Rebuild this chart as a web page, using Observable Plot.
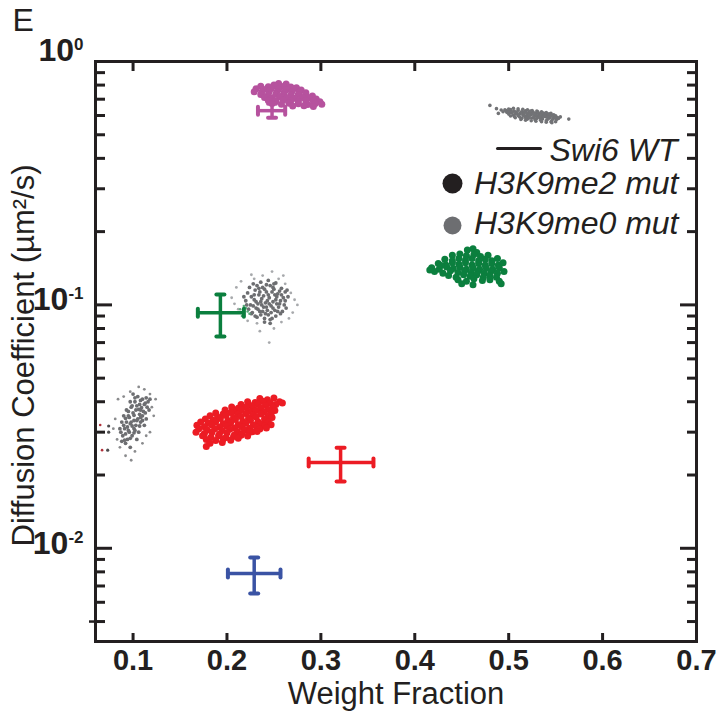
<!DOCTYPE html>
<html><head><meta charset="utf-8">
<script src="https://cdn.jsdelivr.net/npm/d3@7"></script>
<script src="https://cdn.jsdelivr.net/npm/@observablehq/plot@0.6"></script>
<style>html,body{margin:0;padding:0;background:#fff}</style>
</head><body><div id="chart"></div>
<script>
// ---- axis ticks / labels ----
const xTickLabels = [0.1, 0.2, 0.3, 0.4, 0.5, 0.6, 0.7];
const xTickMarks = [0.1, 0.2, 0.3, 0.4, 0.5, 0.6];
const yMajor = [1, 0.1, 0.01];
const yExponents = ["0", "-1", "-2"];
const yMinor = [0.9, 0.8, 0.7, 0.6, 0.5, 0.4, 0.3, 0.2, 0.09, 0.08, 0.07, 0.06, 0.05, 0.04, 0.03, 0.02, 0.009, 0.008, 0.007, 0.006, 0.005];
const yOuterTick = [0.005];
const xLabel = "Weight Fraction";
const yLabel = "Diffusion Coefficient (µm²/s)";
const panelLabel = "E";
const legendLabels = ["Swi6 WT", "H3K9me2 mut", "H3K9me0 mut"];

// ---- Swi6 WT (mean ± error) ----
const wtColor = ["#b6529e", "#0b7f3e", "#ec1c24", "#3a53a4"];
const wtX = [0.248, 0.193, 0.321, 0.229];
const wtXlo = [0.233, 0.169, 0.287, 0.201];
const wtXhi = [0.262, 0.218, 0.356, 0.257];
const wtY = [0.628, 0.0929, 0.0225, 0.00787];
const wtYlo = [0.588, 0.0741, 0.0188, 0.00652];
const wtYhi = [0.670, 0.1102, 0.0259, 0.00916];

// ---- H3K9me2 mut samples ----
const redMe2 = [
[0.235,0.0412],[0.243,0.0408],[0.250,0.0414],[0.256,0.0400],[0.259,0.0395],
[0.222,0.0400],[0.230,0.0397],[0.238,0.0402],[0.246,0.0395],[0.252,0.0390],
[0.215,0.0390],[0.226,0.0385],[0.233,0.0391],[0.241,0.0386],[0.249,0.0380],
[0.205,0.0381],[0.212,0.0376],[0.220,0.0380],[0.228,0.0374],[0.236,0.0378],[0.244,0.0372],[0.251,0.0368],
[0.198,0.0370],[0.207,0.0366],[0.215,0.0371],[0.223,0.0365],[0.231,0.0368],[0.239,0.0362],[0.247,0.0358],
[0.188,0.0360],[0.196,0.0356],[0.204,0.0361],[0.212,0.0355],[0.220,0.0358],[0.228,0.0352],[0.236,0.0356],[0.244,0.0350],
[0.182,0.0350],[0.190,0.0346],[0.199,0.0351],[0.207,0.0345],[0.215,0.0348],[0.223,0.0342],[0.231,0.0346],[0.240,0.0340],[0.248,0.0345],
[0.177,0.0340],[0.185,0.0336],[0.193,0.0341],[0.201,0.0335],[0.209,0.0338],[0.217,0.0332],[0.225,0.0336],[0.233,0.0331],[0.241,0.0334],
[0.172,0.0330],[0.180,0.0326],[0.188,0.0331],[0.196,0.0325],[0.204,0.0328],[0.212,0.0322],[0.220,0.0326],[0.228,0.0321],[0.236,0.0324],[0.244,0.0330],
[0.168,0.0320],[0.176,0.0316],[0.184,0.0321],[0.192,0.0315],[0.200,0.0318],[0.208,0.0312],[0.216,0.0316],[0.224,0.0311],[0.232,0.0314],[0.240,0.0319],[0.247,0.0322],
[0.170,0.0310],[0.179,0.0306],[0.187,0.0310],[0.195,0.0305],[0.203,0.0308],[0.211,0.0302],[0.219,0.0306],[0.227,0.0301],[0.235,0.0309],[0.242,0.0312],
[0.167,0.0300],[0.176,0.0296],[0.184,0.0300],[0.192,0.0295],[0.200,0.0298],[0.208,0.0292],[0.216,0.0296],[0.224,0.0300],[0.232,0.0302],
[0.174,0.0290],[0.183,0.0286],[0.191,0.0290],[0.199,0.0285],[0.207,0.0288],[0.215,0.0291],[0.222,0.0289],
[0.178,0.0280],[0.188,0.0277],[0.196,0.0281],[0.204,0.0278],[0.212,0.0283],
[0.182,0.0270],[0.195,0.0272],[0.178,0.0262]
];
const magMe2 = [
[0.255,0.812],[0.263,0.808],[0.250,0.800],
[0.236,0.792],[0.244,0.788],[0.252,0.794],[0.260,0.790],[0.268,0.786],[0.274,0.780],
[0.231,0.772],[0.239,0.768],[0.247,0.774],[0.255,0.770],[0.263,0.766],[0.271,0.772],[0.279,0.764],
[0.229,0.752],[0.237,0.748],[0.245,0.754],[0.253,0.750],[0.261,0.746],[0.269,0.752],[0.277,0.748],[0.284,0.744],
[0.236,0.732],[0.244,0.728],[0.252,0.734],[0.260,0.730],[0.268,0.726],[0.276,0.732],[0.284,0.728],[0.291,0.722],
[0.240,0.712],[0.248,0.708],[0.256,0.714],[0.264,0.710],[0.272,0.706],[0.280,0.712],[0.288,0.708],[0.295,0.702],
[0.244,0.692],[0.252,0.688],[0.260,0.694],[0.268,0.690],[0.276,0.686],[0.284,0.692],[0.292,0.688],[0.299,0.684],
[0.248,0.672],[0.258,0.668],[0.266,0.674],[0.276,0.670],[0.286,0.666],[0.294,0.672],[0.301,0.668],
[0.270,0.656],[0.282,0.658],[0.292,0.654]
];
const grnMe2 = [
[0.456,0.168],[0.462,0.170],[0.466,0.164],
[0.440,0.160],[0.448,0.162],[0.455,0.159],[0.463,0.161],[0.470,0.158],[0.478,0.160],
[0.432,0.154],[0.440,0.152],[0.447,0.155],[0.454,0.153],[0.461,0.155],[0.468,0.152],[0.475,0.154],[0.482,0.152],[0.488,0.155],
[0.425,0.148],[0.433,0.146],[0.440,0.149],[0.447,0.147],[0.454,0.149],[0.461,0.146],[0.468,0.148],[0.475,0.146],[0.482,0.148],[0.489,0.146],[0.494,0.149],
[0.418,0.142],[0.426,0.140],[0.434,0.143],[0.441,0.141],[0.448,0.143],[0.455,0.140],[0.462,0.142],[0.469,0.140],[0.476,0.142],[0.483,0.140],[0.490,0.142],
[0.421,0.137],[0.430,0.135],[0.438,0.138],[0.446,0.136],[0.453,0.138],[0.460,0.135],[0.467,0.137],[0.474,0.135],[0.481,0.137],[0.488,0.135],[0.495,0.137],
[0.436,0.132],[0.444,0.130],[0.452,0.133],[0.459,0.131],[0.466,0.133],[0.473,0.130],[0.480,0.132],[0.487,0.130],
[0.446,0.127],[0.455,0.125],[0.463,0.128],[0.472,0.126],[0.480,0.127],[0.490,0.125],
[0.450,0.122],[0.462,0.121],[0.492,0.122],[0.428,0.145],[0.416,0.139]
];

// ---- H3K9me0 mut samples ----
const grayTop = [
[0.480,0.660],[0.487,0.640],[0.492,0.632],[0.497,0.628],[0.502,0.634],[0.506,0.626],[0.510,0.630],[0.514,0.622],[0.518,0.627],[0.522,0.619],
[0.498,0.618],[0.503,0.615],[0.508,0.617],[0.512,0.611],[0.516,0.614],[0.520,0.608],[0.524,0.612],[0.528,0.605],[0.532,0.609],[0.536,0.600],
[0.540,0.603],[0.544,0.596],[0.548,0.592],[0.552,0.588],[0.494,0.622],[0.500,0.608],[0.505,0.603],[0.510,0.600],[0.515,0.604],[0.519,0.598],
[0.523,0.601],[0.527,0.594],[0.531,0.597],[0.535,0.590],[0.539,0.593],[0.543,0.585],[0.547,0.582],[0.551,0.578],[0.506,0.594],[0.512,0.590],
[0.518,0.588],[0.525,0.586],[0.530,0.583],[0.536,0.580],[0.541,0.576],[0.546,0.572],[0.526,0.620],[0.530,0.616],[0.534,0.612],[0.538,0.610],
[0.542,0.606],[0.546,0.602],[0.550,0.598],[0.555,0.592],[0.564,0.580],[0.489,0.612],[0.545,0.565],[0.520,0.580],[0.514,0.584],[0.501,0.623],
[0.507,0.609],[0.513,0.618],[0.521,0.593],[0.529,0.600],[0.537,0.596],[0.533,0.588],[0.496,0.633],[0.517,0.622],[0.525,0.607],[0.541,0.590],
[0.504,0.621],[0.509,0.612],[0.516,0.607],[0.522,0.604],[0.528,0.612],[0.534,0.604],[0.539,0.599],[0.544,0.590],[0.549,0.586],[0.511,0.596],
[0.527,0.589],[0.533,0.594],[0.519,0.616],[0.499,0.624],[0.553,0.583],
[0.500,0.638],[0.505,0.642],[0.510,0.639],[0.515,0.636],[0.520,0.633],[0.525,0.629],[0.530,0.626],[0.535,0.622],[0.540,0.617],[0.545,0.612],
[0.502,0.597],[0.507,0.587],[0.513,0.578],[0.518,0.574],[0.524,0.571],[0.529,0.568],[0.535,0.566],[0.540,0.563],[0.546,0.560],[0.550,0.566],
[0.523,0.626],[0.531,0.621],[0.537,0.614],[0.543,0.609],[0.548,0.604],[0.528,0.577],[0.534,0.574],[0.540,0.571],[0.516,0.597],[0.522,0.586]
];
const grayMid = [
[0.222,0.112],[0.226,0.108],[0.230,0.115],[0.234,0.110],[0.238,0.118],[0.242,0.113],[0.246,0.120],[0.250,0.116],[0.254,0.111],[0.258,0.117],[0.262,0.113],
[0.220,0.104],[0.225,0.100],[0.229,0.105],[0.233,0.101],[0.237,0.106],[0.241,0.102],[0.245,0.107],[0.249,0.103],[0.253,0.108],[0.257,0.104],[0.261,0.100],
[0.223,0.096],[0.227,0.093],[0.231,0.097],[0.235,0.094],[0.239,0.098],[0.243,0.095],[0.247,0.099],[0.251,0.095],[0.255,0.098],[0.259,0.094],
[0.232,0.089],[0.236,0.091],[0.240,0.088],[0.244,0.091],[0.248,0.088],[0.252,0.090],[0.228,0.122],[0.236,0.124],[0.244,0.126],[0.252,0.123],
[0.218,0.108],[0.265,0.108],[0.263,0.097],[0.240,0.085],[0.246,0.084],[0.235,0.113],[0.243,0.104],[0.251,0.110],[0.239,0.109],[0.247,0.093],
[0.256,0.101],[0.231,0.103],[0.249,0.118],[0.242,0.121],
[0.224,0.118],[0.232,0.120],[0.240,0.116],[0.248,0.113],[0.256,0.114],[0.260,0.107],[0.252,0.105],[0.244,0.110],[0.236,0.103],[0.228,0.099],
[0.233,0.096],[0.241,0.092],[0.249,0.097],[0.257,0.092],[0.253,0.101],[0.245,0.101],[0.237,0.100],[0.229,0.110],[0.221,0.100],[0.226,0.092],
[0.238,0.094],[0.246,0.087],[0.254,0.094],[0.262,0.104],[0.258,0.110],[0.250,0.122],[0.234,0.117],[0.242,0.098],[0.230,0.090],[0.264,0.115]
];
const grayMidLight = [
[0.205,0.107],[0.210,0.118],[0.212,0.096],[0.215,0.125],[0.218,0.090],[0.226,0.133],[0.232,0.084],[0.238,0.132],[0.248,0.137],[0.255,0.128],
[0.262,0.122],[0.268,0.112],[0.272,0.105],[0.270,0.093],[0.266,0.088],[0.258,0.085],[0.250,0.080],[0.235,0.078],[0.222,0.086],[0.245,0.070],
[0.275,0.100],[0.260,0.132],[0.208,0.101],[0.229,0.128]
];
const greenWtPts = [[0.214,0.096],[0.217,0.093],[0.220,0.097],[0.222,0.094],[0.218,0.099],[0.224,0.092],[0.216,0.090]];
const grayLow = [
[0.100,0.043],[0.105,0.042],[0.110,0.041],[0.097,0.040],[0.102,0.040],[0.107,0.039],[0.112,0.039],[0.116,0.040],
[0.093,0.037],[0.098,0.038],[0.103,0.037],[0.108,0.037],[0.113,0.036],[0.117,0.037],
[0.090,0.035],[0.095,0.035],[0.100,0.036],[0.105,0.034],[0.110,0.035],[0.114,0.034],
[0.088,0.033],[0.093,0.033],[0.098,0.033],[0.103,0.032],[0.108,0.033],[0.112,0.032],
[0.086,0.031],[0.091,0.031],[0.096,0.030],[0.101,0.031],[0.106,0.030],
[0.089,0.029],[0.094,0.028],[0.099,0.029],[0.104,0.028],
[0.092,0.027],[0.097,0.026],[0.088,0.0275],[0.104,0.0385],[0.096,0.0345],[0.101,0.0335],[0.107,0.0355],
[0.094,0.0315],[0.099,0.0318],[0.109,0.0378],[0.114,0.0415],
[0.102,0.0415],[0.108,0.0405],[0.113,0.0395],[0.099,0.0385],[0.106,0.0372],[0.111,0.0365],[0.095,0.0365],[0.101,0.0352],
[0.108,0.0345],[0.092,0.0342],[0.097,0.0325],[0.104,0.0335],[0.110,0.0335],[0.090,0.0320],[0.095,0.0305],[0.101,0.0298],
[0.092,0.0295],[0.097,0.0283],[0.102,0.0305],[0.107,0.0318],[0.115,0.0380],[0.118,0.0410],[0.087,0.0300],[0.091,0.0278]
];
const grayLowLight = [
[0.084,0.041],[0.090,0.042],[0.112,0.045],[0.118,0.043],[0.106,0.046],[0.120,0.038],[0.122,0.035],[0.118,0.030],[0.114,0.029],[0.081,0.034],
[0.079,0.031],[0.083,0.028],[0.086,0.026],[0.092,0.024],[0.098,0.023],[0.102,0.025],[0.110,0.027],[0.124,0.041],[0.097,0.044]
];
const darkEdge = [[0.074,0.0318],[0.074,0.0300],[0.073,0.0253]];
const redEdge = [[0.065,0.0321],[0.067,0.0253]];

const wt = wtX.map((x, i) => ({x, xlo: wtXlo[i], xhi: wtXhi[i], y: wtY[i], ylo: wtYlo[i], yhi: wtYhi[i], c: wtColor[i]}));
const ink = "#231f20";
const lineShape = {draw(ctx, l) { ctx.moveTo(0, 0); ctx.lineTo(0, -l); }};
const tickFont = "'Liberation Sans', Arial, sans-serif";
const X = d => d[0], Y = d => d[1];

const plot = Plot.plot({
  width: 720, height: 713,
  marginLeft: 95, marginRight: 24, marginTop: 61, marginBottom: 72,
  style: {fontFamily: "'Liberation Sans', Arial, sans-serif", background: "#fff", color: ink},
  x: {domain: [0.06, 0.7], label: null, axis: null},
  y: {type: "log", domain: [0.00414, 1], label: null, axis: null},
  marks: [
    // me0 clouds
    Plot.dot(grayMidLight, {x: X, y: Y, r: 1.4, fill: "#a7a9ac", stroke: null}),
    Plot.dot(grayLowLight, {x: X, y: Y, r: 1.4, fill: "#8a8b8d", stroke: null}),
    Plot.dot(grayTop, {x: X, y: Y, r: 1.8, fill: "#727376", stroke: null}),
    Plot.dot(grayMid, {x: X, y: Y, r: 1.9, fill: "#6d6e71", stroke: null}),
    Plot.dot(grayLow, {x: X, y: Y, r: 1.9, fill: "#6d6e71", stroke: null}),
    Plot.dot(greenWtPts, {x: X, y: Y, r: 1.3, fill: "#5aa97a", stroke: null}),
    Plot.dot(darkEdge, {x: X, y: Y, r: 1.6, fill: "#4d4d4f", stroke: null}),
    Plot.dot(redEdge, {x: X, y: Y, r: 1.3, fill: "#b0303a", stroke: null}),
    // me2 clouds
    Plot.dot(redMe2, {x: X, y: Y, r: 3.5, fill: "#ec1c24", stroke: null}),
    Plot.dot(magMe2, {x: X, y: Y, r: 3.5, fill: "#b6529e", stroke: null}),
    Plot.dot(grnMe2, {x: X, y: Y, r: 3.5, fill: "#0b7f3e", stroke: null}),
    // Swi6 WT crosses
    Plot.link(wt, {x1: "xlo", x2: "xhi", y1: "y", y2: "y", stroke: "c", strokeWidth: 3.5}),
    Plot.link(wt, {x1: "x", x2: "x", y1: "ylo", y2: "yhi", stroke: "c", strokeWidth: 3.5}),
    Plot.vector(wt, {x: "xlo", y: "y", length: 8, anchor: "middle", stroke: "c", strokeWidth: 4, shape: lineShape}),
    Plot.vector(wt, {x: "xhi", y: "y", length: 8, anchor: "middle", stroke: "c", strokeWidth: 4, shape: lineShape}),
    Plot.vector(wt, {x: "x", y: "ylo", length: 8, anchor: "middle", rotate: 90, stroke: "c", strokeWidth: 4, shape: lineShape}),
    Plot.vector(wt, {x: "x", y: "yhi", length: 8, anchor: "middle", rotate: 90, stroke: "c", strokeWidth: 4, shape: lineShape}),
    // frame and inward ticks
    Plot.frame({stroke: ink, strokeWidth: 3}),
    Plot.axisY(yMinor, {anchor: "left", tickSize: -10, strokeWidth: 3, stroke: ink, tickFormat: () => "", label: null}),
    Plot.axisY(yMinor, {anchor: "right", tickSize: -10, strokeWidth: 3, stroke: ink, tickFormat: () => "", label: null}),
    Plot.axisY(yMajor, {anchor: "left", tickSize: -17, strokeWidth: 3, stroke: ink, tickFormat: () => "", label: null}),
    Plot.axisY(yMajor, {anchor: "right", tickSize: -17, strokeWidth: 3, stroke: ink, tickFormat: () => "", label: null}),
    Plot.axisY(yOuterTick, {anchor: "left", tickSize: 6, strokeWidth: 2.5, stroke: ink, tickFormat: () => "", label: null}),
    Plot.axisX(xTickMarks, {anchor: "bottom", tickSize: -8, strokeWidth: 3, stroke: ink, tickFormat: () => "", label: null}),
    Plot.axisX(xTickMarks, {anchor: "top", tickSize: -9, strokeWidth: 3, stroke: ink, tickFormat: () => "", label: null}),
    // tick labels
    Plot.axisX(xTickLabels, {anchor: "bottom", tickSize: 0, tickPadding: 8, fontSize: 29, fontWeight: "bold", fontFamily: tickFont, fill: ink, tickFormat: d => String(d), label: null}),
    Plot.axisY(yMajor, {anchor: "left", tickSize: 0, tickPadding: 12, fontSize: 32, fontWeight: "bold", fontFamily: tickFont, fill: ink,
      tickFormat: d => "10^" + yExponents[yMajor.indexOf(d)], label: null}),
    // axis titles & panel label
    Plot.text([xLabel], {frameAnchor: "bottom", lineAnchor: "middle", dy: 53, fontSize: 31, fill: ink}),
    Plot.text([yLabel], {frameAnchor: "left", textAnchor: "middle", lineAnchor: "middle", rotate: -90, dx: -71, dy: 4, fontSize: 31, fill: ink}),
    Plot.text([panelLabel], {frameAnchor: "top-left", textAnchor: "start", lineAnchor: "middle", dx: -83, dy: -41, fontSize: 32, fill: ink}),
    // legend
    Plot.vector([0], {frameAnchor: "top-right", length: 43, rotate: 90, anchor: "start", dx: -199, dy: 87, stroke: ink, strokeWidth: 3, shape: lineShape}),
    Plot.text([legendLabels[0]], {frameAnchor: "top-right", textAnchor: "end", lineAnchor: "middle", dx: -19, dy: 89, fontSize: 32, fontStyle: "italic", fill: ink}),
    Plot.dot([0], {frameAnchor: "top-right", dx: -244, dy: 122, r: 10, fill: ink, stroke: null}),
    Plot.text([legendLabels[1]], {frameAnchor: "top-right", textAnchor: "end", lineAnchor: "middle", dx: -18, dy: 122, fontSize: 32, fontStyle: "italic", fill: ink}),
    Plot.dot([0], {frameAnchor: "top-right", dx: -244, dy: 164, r: 9, fill: "#6d6e71", stroke: null}),
    Plot.text([legendLabels[2]], {frameAnchor: "top-right", textAnchor: "end", lineAnchor: "middle", dx: -18, dy: 162, fontSize: 32, fontStyle: "italic", fill: ink})
  ]
});

// superscript exponents in y tick labels
d3.select(plot).selectAll('g[aria-label="y-axis tick label"] text').each(function() {
  const t = d3.select(this);
  const s = t.text();
  if (!s || s.indexOf("^") < 0) return;
  const [b, e] = s.split("^");
  t.text(null);
  t.append("tspan").attr("dy", e === "0" ? -11 : -5).text(b);
  t.append("tspan").attr("dy", -11).attr("font-size", 17).text(e);
});
document.getElementById("chart").appendChild(plot);
</script>
</body></html>
